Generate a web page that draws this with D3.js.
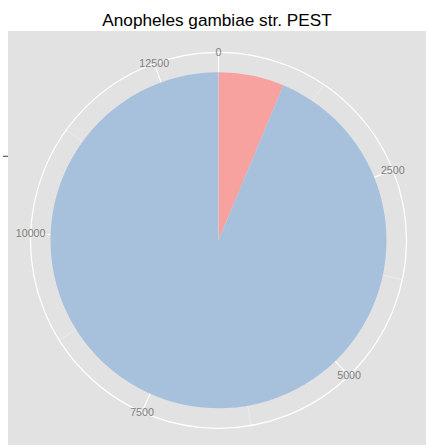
<!DOCTYPE html>
<html>
<head>
<meta charset="utf-8">
<script src="https://cdn.jsdelivr.net/npm/d3@7"></script>
<style>
 body { margin: 0; background: #fff; }
 svg { display: block; font-family: "Liberation Sans", Arial, sans-serif; }
 .title { font-size: 17.2px; fill: #000; }
 .thetaLabel { font-size: 10.7px; fill: #7F7F7F; }
</style>
</head>
<body>
<svg width="426" height="445"></svg>
<script>
const title = "Anopheles gambiae str. PEST";
const categories = ["A", "B"];
const values = [835, 12400];
const colours = ["#F7A29F", "#A7C1DD"];
const thetaTicks = [0, 2500, 5000, 7500, 10000, 12500];
const minorTicks = [1250, 3750, 6250, 8750, 11250];

const W = 426;
const H = 445;
const panel = { x: 8, y: 31, w: W - 8, h: H - 31 };
const cx = 218.5;
const cy = 240.3;
const pieR = 168;
const outerR = 188;

const svg = d3.select("svg");

svg
 .append("text")
 .attr("class", "title")
 .attr("x", 217)
 .attr("y", 26)
 .attr("text-anchor", "middle")
 .text(title);

svg
 .append("rect")
 .attr("x", panel.x)
 .attr("y", panel.y)
 .attr("width", panel.w)
 .attr("height", panel.h)
 .attr("fill", "#E2E2E2");

const total = d3.sum(values);

const theta = d3
 .scaleLinear()
 .domain([0, total])
 .range([0, 2 * Math.PI]);

// radius axis: single category band at [0,1]
const rScale = d3
 .scaleLinear()
 .domain([0, 1])
 .range([0, pieR]);

const chart = svg.append("g").attr("transform", `translate(${cx},${cy})`);

const px = (a, r) => r * Math.sin(a);
const py = (a, r) => -r * Math.cos(a);

// minor spokes
chart
 .selectAll(".minor")
 .data(minorTicks)
 .enter()
 .append("line")
 .attr("x1", 0)
 .attr("y1", 0)
 .attr("x2", d => px(theta(d), outerR))
 .attr("y2", d => py(theta(d), outerR))
 .attr("stroke", "#F2F2F2")
 .attr("stroke-width", 0.6);

// major spokes
chart
 .selectAll(".major")
 .data(thetaTicks)
 .enter()
 .append("line")
 .attr("x1", 0)
 .attr("y1", 0)
 .attr("x2", d => px(theta(d), outerR))
 .attr("y2", d => py(theta(d), outerR))
 .attr("stroke", "#fff")
 .attr("stroke-width", 1.1);

// radial grid circles
chart
 .append("circle")
 .attr("r", rScale(0.5))
 .attr("fill", "none")
 .attr("stroke", "#fff")
 .attr("stroke-width", 1.1);

chart
 .append("circle")
 .attr("r", outerR)
 .attr("fill", "none")
 .attr("stroke", "#fff")
 .attr("stroke-width", 1.2);

const pie = d3
 .pie()
 .sort(null)
 .value(d => d.value)
 .startAngle(0)
 .endAngle(theta(total));

const arc = d3
 .arc()
 .innerRadius(rScale(0))
 .outerRadius(rScale(1));

const slices = categories.map((c, i) => ({ name: c, value: values[i], colour: colours[i] }));

chart
 .selectAll(".slice")
 .data(pie(slices))
 .enter()
 .append("path")
 .attr("class", "slice")
 .attr("d", arc)
 .attr("fill", d => d.data.colour);

chart
 .selectAll(".thetaLabel")
 .data(thetaTicks)
 .enter()
 .append("text")
 .attr("class", "thetaLabel")
 .attr("x", d => px(theta(d), outerR))
 .attr("y", d => py(theta(d), outerR))
 .attr("dy", "0.35em")
 .attr("text-anchor", "middle")
 .text(d => d);

// left axis tick for the single category
svg
 .append("line")
 .attr("x1", 3)
 .attr("x2", panel.x)
 .attr("y1", cy - rScale(0.5))
 .attr("y2", cy - rScale(0.5))
 .attr("stroke", "#4D4D4D")
 .attr("stroke-width", 1.1);
</script>
</body>
</html>
